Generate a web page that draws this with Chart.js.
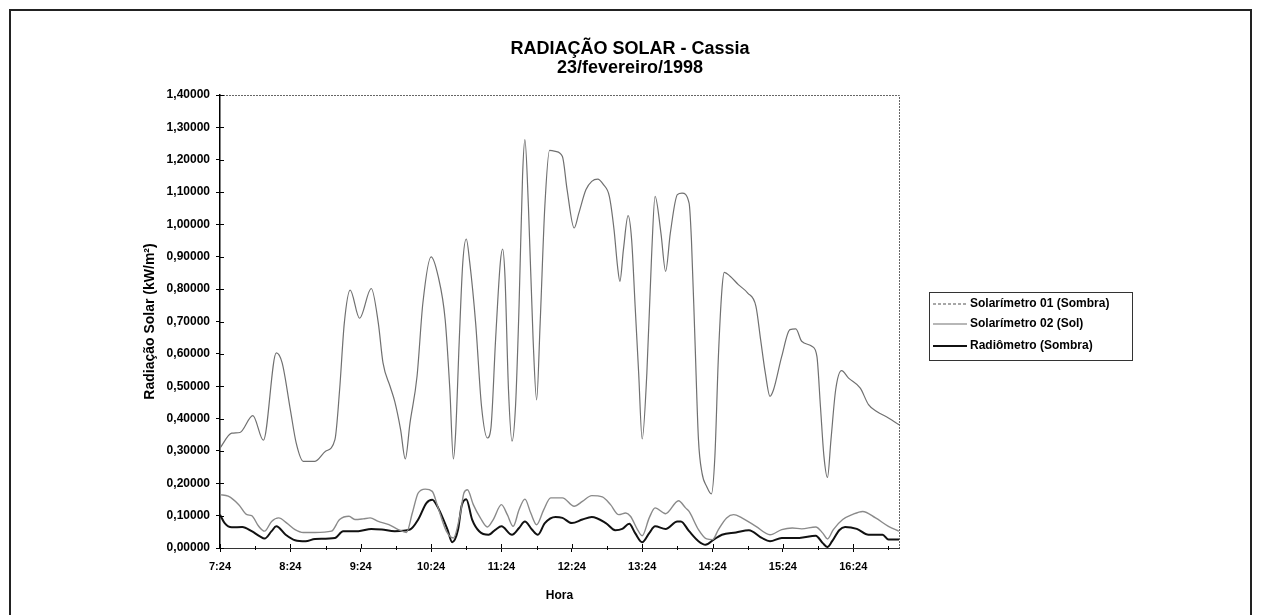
<!DOCTYPE html>
<html>
<head>
<meta charset="utf-8">
<script src="https://cdn.jsdelivr.net/npm/chart.js@4.4.1/dist/chart.umd.min.js"></script>
<style>
  html, body { margin: 0; padding: 0; background: #fff; }
  #wrap { position: relative; width: 1261px; height: 615px; }
</style>
</head>
<body>
<div id="wrap"><canvas id="radChart" width="1261" height="615"></canvas></div>
<script>
/**
 * Radiação solar - Cassia, 23/02/1998
 */

const chartTitle = ['RADIAÇÃO SOLAR - Cassia', '23/fevereiro/1998'];
const xTitle = 'Hora';
const yTitle = 'Radiação Solar (kW/m²)';
const hourLabels = ['7:24', '8:24', '9:24', '10:24', '11:24', '12:24', '13:24', '14:24', '15:24', '16:24'];
const seriesNames = ['Solarímetro 01 (Sombra)', 'Solarímetro 02 (Sol)', 'Radiômetro (Sombra)'];

// times are minutes after 7:24
const sombraMinutes = [0, 7, 16, 23, 27, 33, 38, 44, 50, 57, 64, 71, 81, 95, 102, 110, 115, 122, 128, 135,
  144, 152, 159, 164, 169, 175, 181, 186, 193, 199, 205, 208, 211, 216, 222, 228, 233, 240, 245, 250,
  255, 260, 265, 270, 276, 282, 292, 302, 309, 317, 326, 333, 340, 346, 350, 356, 360, 366, 371, 380,
  391, 397, 400, 408, 415, 420, 425, 432, 438, 445, 457, 469, 479, 488, 496, 508, 514, 518, 523, 531,
  539, 548, 559, 570, 579];
const sombraValues = [0.165, 0.160, 0.134, 0.103, 0.100, 0.067, 0.052, 0.082, 0.093, 0.077, 0.057, 0.048, 0.048, 0.052, 0.088, 0.098, 0.088, 0.090, 0.093, 0.082,
  0.072, 0.057, 0.048, 0.108, 0.170, 0.182, 0.175, 0.124, 0.052, 0.031, 0.108, 0.170, 0.180, 0.134, 0.093, 0.065, 0.088, 0.134, 0.103, 0.067,
  0.118, 0.151, 0.108, 0.072, 0.118, 0.155, 0.155, 0.129, 0.144, 0.162, 0.158, 0.134, 0.103, 0.108, 0.098, 0.057, 0.038, 0.093, 0.124, 0.106,
  0.146, 0.124, 0.113, 0.057, 0.028, 0.026, 0.057, 0.093, 0.103, 0.093, 0.067, 0.041, 0.057, 0.062, 0.059, 0.065, 0.046, 0.028, 0.057, 0.088,
  0.103, 0.113, 0.093, 0.067, 0.052];

const solMinutes = [0, 10, 17, 28, 37, 48, 53, 60, 65, 71, 81, 90, 98, 102, 106, 111, 119, 129, 135, 139,
  145, 149, 154, 158, 162, 168, 173, 180, 186, 192, 196, 199, 201, 204, 207, 210, 213, 218, 223, 228,
  231, 235, 239, 241, 243, 246, 249, 252, 255, 258, 260, 263, 267, 270, 273, 277, 281, 286, 292, 296,
  302, 306, 312, 317, 322, 327, 332, 336, 339, 341, 344, 348, 351, 354, 357, 360, 364, 368, 371, 376,
  380, 384, 390, 394, 400, 402, 405, 408, 411, 415, 419, 422, 425, 428, 430, 435, 442, 450, 457, 461,
  465, 469, 472, 479, 486, 491, 496, 505, 509, 512, 515, 518, 521, 525, 530, 536, 546, 553, 560, 570, 579];
const solValues = [0.309, 0.355, 0.357, 0.409, 0.333, 0.603, 0.572, 0.427, 0.324, 0.268, 0.268, 0.299, 0.335, 0.489, 0.695, 0.797, 0.710, 0.802, 0.695, 0.572,
  0.500, 0.453, 0.366, 0.275, 0.386, 0.530, 0.757, 0.900, 0.840, 0.706, 0.489, 0.275, 0.360, 0.640, 0.880, 0.955, 0.881, 0.695, 0.438, 0.340,
  0.370, 0.644, 0.881, 0.924, 0.840, 0.489, 0.330, 0.438, 0.747, 1.150, 1.262, 1.056, 0.644, 0.458, 0.695, 1.056, 1.229, 1.226, 1.210, 1.107,
  0.989, 1.035, 1.107, 1.133, 1.140, 1.123, 1.087, 0.984, 0.870, 0.824, 0.922, 1.027, 0.953, 0.747, 0.541, 0.337, 0.541, 0.901, 1.087, 0.973,
  0.855, 0.973, 1.092, 1.097, 1.066, 0.953, 0.644, 0.335, 0.232, 0.190, 0.167, 0.283, 0.592, 0.798, 0.852, 0.840, 0.814, 0.788, 0.747, 0.644,
  0.541, 0.469, 0.489, 0.592, 0.675, 0.677, 0.639, 0.623, 0.592, 0.438, 0.283, 0.218, 0.335, 0.489, 0.548, 0.525, 0.494, 0.443, 0.422, 0.402, 0.381];

const radMinutes = [0, 4, 10, 19, 27, 34, 38, 44, 48, 56, 64, 73, 81, 98, 105, 118, 129, 138, 149, 162,
  169, 176, 181, 186, 194, 198, 203, 206, 210, 215, 221, 229, 235, 240, 249, 255, 260, 266, 271, 277,
  286, 292, 300, 309, 317, 329, 337, 343, 349, 354, 360, 366, 371, 380, 390, 393, 400, 408, 414, 421,
  428, 440, 451, 462, 469, 479, 494, 508, 514, 518, 522, 528, 533, 543, 553, 565, 570, 579];
const radValues = [0.103, 0.077, 0.064, 0.065, 0.052, 0.036, 0.029, 0.052, 0.067, 0.041, 0.024, 0.021, 0.028, 0.031, 0.052, 0.052, 0.059, 0.057, 0.052, 0.057,
  0.088, 0.139, 0.149, 0.124, 0.057, 0.018, 0.057, 0.130, 0.151, 0.088, 0.052, 0.041, 0.057, 0.067, 0.041, 0.062, 0.082, 0.057, 0.041, 0.077,
  0.096, 0.093, 0.077, 0.088, 0.096, 0.077, 0.055, 0.059, 0.075, 0.046, 0.018, 0.046, 0.067, 0.059, 0.082, 0.082, 0.052, 0.021, 0.010, 0.026,
  0.041, 0.048, 0.055, 0.031, 0.021, 0.031, 0.031, 0.038, 0.015, 0.003, 0.021, 0.055, 0.065, 0.059, 0.041, 0.041, 0.026, 0.026];

const FONT = "'Liberation Sans', Arial, sans-serif";
Chart.defaults.font.family = FONT;
Chart.defaults.color = '#000';

function toOffset(label) {
  const [h, m] = label.split(':').map(Number);
  return h * 60 + m - (7 * 60 + 24);
}

function toPoints(mins, vals) {
  return mins.map((m, i) => ({ x: m, y: vals[i] }));
}

const lineStyles = [
  { color: '#8a8a8a', width: 1.4, dash: [3, 2] },
  { color: '#707070', width: 1.2, dash: [] },
  { color: '#111111', width: 2, dash: [] }
];

const decorPlugin = {
  id: 'decor',
  beforeDraw(chart) {
    const ctx = chart.ctx;
    ctx.save();
    ctx.fillStyle = '#fff';
    ctx.fillRect(0, 0, chart.width, chart.height);
    // outer frame of the scanned page
    ctx.strokeStyle = '#222';
    ctx.lineWidth = 2;
    ctx.beginPath();
    ctx.moveTo(10, chart.height);
    ctx.lineTo(10, 10);
    ctx.lineTo(1251, 10);
    ctx.lineTo(1251, chart.height);
    ctx.stroke();
    ctx.restore();
  },
  afterDraw(chart) {
    const { ctx, chartArea: a, scales: { x, y } } = chart;
    ctx.save();

    // plot area border (top / right)
    ctx.strokeStyle = '#666';
    ctx.lineWidth = 1;
    ctx.setLineDash([2, 1]);
    ctx.beginPath();
    ctx.moveTo(a.left, a.top + 0.5);
    ctx.lineTo(a.right + 0.5, a.top + 0.5);
    ctx.lineTo(a.right + 0.5, a.bottom);
    ctx.stroke();
    ctx.setLineDash([]);

    // inner half of the cross tick marks
    ctx.strokeStyle = '#000';
    ctx.beginPath();
    y.ticks.forEach(t => {
      const py = Math.round(y.getPixelForValue(t.value)) + 0.5;
      ctx.moveTo(a.left, py);
      ctx.lineTo(a.left + 4, py);
    });
    x.ticks.forEach(t => {
      const px = Math.round(x.getPixelForValue(t.value)) + 0.5;
      ctx.moveTo(px, a.bottom);
      ctx.lineTo(px, a.bottom - 4);
    });
    // minor ticks every 30 min
    hourLabels.forEach(l => {
      const v = toOffset(l) + 30;
      if (v > x.max) return;
      const px = Math.round(x.getPixelForValue(v)) + 0.5;
      ctx.moveTo(px, a.bottom - 2);
      ctx.lineTo(px, a.bottom + 2);
    });
    ctx.stroke();

    // title
    ctx.fillStyle = '#000';
    ctx.textAlign = 'center';
    ctx.textBaseline = 'middle';
    ctx.font = `bold 18px ${FONT}`;
    ctx.fillText(chartTitle[0], 630, 49);
    ctx.fillText(chartTitle[1], 630, 68);

    // legend
    const box = { left: 929, top: 292, width: 203, height: 68 };
    const rowY = [304, 324, 346];
    ctx.strokeStyle = '#333';
    ctx.lineWidth = 1;
    ctx.strokeRect(box.left + 0.5, box.top + 0.5, box.width, box.height);
    ctx.font = `bold 12px ${FONT}`;
    ctx.textAlign = 'left';
    seriesNames.forEach((name, i) => {
      const ly = rowY[i];
      const st = lineStyles[i];
      ctx.strokeStyle = st.color;
      ctx.lineWidth = st.width;
      ctx.setLineDash(st.dash);
      ctx.beginPath();
      ctx.moveTo(box.left + 4, ly);
      ctx.lineTo(box.left + 38, ly);
      ctx.stroke();
      ctx.setLineDash([]);
      ctx.fillText(name, box.left + 41, ly);
    });
    ctx.restore();
  }
};

const seriesData = [
  toPoints(sombraMinutes, sombraValues),
  toPoints(solMinutes, solValues),
  toPoints(radMinutes, radValues)
];

new Chart(document.getElementById('radChart'), {
  type: 'line',
  data: {
    datasets: seriesNames.map((name, i) => ({
      label: name,
      data: seriesData[i],
      borderColor: lineStyles[i].color,
      borderWidth: lineStyles[i].width,
      pointRadius: 0,
      fill: false,
      cubicInterpolationMode: 'monotone'
    }))
  },
  options: {
    responsive: false,
    animation: false,
    devicePixelRatio: 1,
    layout: { padding: { top: 95, right: 362, bottom: 0, left: 0 } },
    plugins: {
      legend: { display: false },
      title: { display: false },
      tooltip: { enabled: false }
    },
    scales: {
      x: {
        type: 'linear',
        min: 0,
        max: 579,
        afterBuildTicks: (s) => { s.ticks = hourLabels.map(l => ({ value: toOffset(l) })); },
        afterFit: (s) => { s.height = 67; },
        ticks: {
          autoSkip: false,
          maxRotation: 0,
          padding: 8,
          font: { size: 11, weight: 'bold' },
          callback: (val, idx) => hourLabels[idx]
        },
        grid: { display: true, drawOnChartArea: false, tickLength: 4, color: '#000' },
        border: { color: '#333', width: 1 },
        title: {
          display: true,
          text: xTitle,
          font: { size: 12, weight: 'bold' },
          padding: { top: 0, bottom: 12 }
        }
      },
      y: {
        min: 0,
        max: 1.4,
        afterFit: (s) => { s.width = 220; },
        ticks: {
          stepSize: 0.1,
          padding: 6,
          font: { size: 12, weight: 'bold' },
          callback: (val) => val.toFixed(5).replace('.', ',')
        },
        grid: { display: true, drawOnChartArea: false, tickLength: 4, color: '#000' },
        border: { color: '#000', width: 1.5 },
        title: {
          display: true,
          text: yTitle,
          font: { size: 14, weight: 'bold' },
          padding: { top: 142, bottom: 0 }
        }
      }
    }
  },
  plugins: [decorPlugin]
});
</script>
</body>
</html>
